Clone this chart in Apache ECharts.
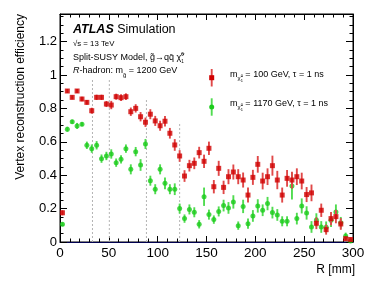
<!DOCTYPE html>
<html><head><meta charset="utf-8">
<script src="https://cdn.jsdelivr.net/npm/echarts@6/dist/echarts.min.js"></script>
<style>html,body{margin:0;padding:0;background:#fff}#c{width:374px;height:290px}</style>
</head><body><div id="c"></div>
<script>
// bin centres R [mm]
const binR = [2.5,7.5,12.5,17.5,22.5,27.5,32.5,37.5,42.5,47.5,52.5,57.5,62.5,67.5,72.5,77.5,82.5,87.5,92.5,97.5,
  102.5,107.5,112.5,117.5,122.5,127.5,132.5,137.5,142.5,147.5,152.5,157.5,162.5,167.5,172.5,177.5,182.5,187.5,192.5,197.5,
  202.5,207.5,212.5,217.5,222.5,227.5,232.5,237.5,242.5,247.5,252.5,257.5,262.5,267.5,272.5,277.5,282.5,287.5,292.5,297.5];
// m = 100 GeV
const redEff = [0.175,0.904,0.866,0.904,0.856,0.836,0.786,0.866,0.866,0.826,0.82,0.87,0.864,0.87,0.78,0.80,0.75,0.717,0.765,0.725,
  0.696,0.723,0.651,0.581,0.515,0.395,0.457,0.471,0.535,0.483,0.561,0.331,0.441,0.327,0.391,0.419,0.391,0.371,0.281,0.387,
  0.465,0.365,0.391,0.457,0.371,0.281,0.381,0.371,0.391,0.365,0.284,0.294,0.112,0.19,0.074,0.14,0.152,0.108,0.02,0.015];
const redErr = [0.015,0.012,0.012,0.012,0.013,0.014,0.018,0.016,0.016,0.018,0.025,0.018,0.02,0.02,0.025,0.025,0.028,0.028,0.03,0.03,
  0.03,0.032,0.032,0.035,0.035,0.035,0.035,0.035,0.035,0.04,0.04,0.04,0.045,0.04,0.045,0.045,0.045,0.045,0.045,0.045,
  0.05,0.05,0.05,0.06,0.055,0.045,0.05,0.05,0.05,0.05,0.045,0.05,0.035,0.04,0.03,0.04,0.04,0.035,0.012,0.012];
// m = 1170 GeV
const greenEff = [0.106,0.675,0.72,0.695,0.705,0.579,0.559,0.579,0.499,0.515,0.527,0.475,0.495,0.559,0.435,0.541,0.461,0.587,0.367,0.316,
  0.435,0.351,0.316,0.316,0.2,0.14,0.195,0.178,0.106,0.271,0.164,0.134,0.183,0.218,0.204,0.24,0.098,0.213,0.11,0.156,
  0.216,0.19,0.23,0.176,0.162,0.124,0.124,0.335,0.14,0.216,0.174,0.09,0.132,0.09,0.088,0.13,0.18,0.115,0.036,0.006];
const greenErr = [0.012,0.015,0.012,0.018,0.012,0.022,0.025,0.025,0.025,0.025,0.028,0.025,0.025,0.025,0.03,0.028,0.035,0.03,0.03,0.03,
  0.03,0.035,0.03,0.035,0.03,0.025,0.03,0.03,0.025,0.055,0.03,0.025,0.03,0.035,0.035,0.04,0.025,0.04,0.03,0.035,
  0.04,0.035,0.04,0.035,0.035,0.03,0.03,0.08,0.035,0.045,0.04,0.035,0.04,0.035,0.035,0.04,0.045,0.035,0.02,0.01];
// pixel layers (dotted lines)
const layerR = [33.25, 50.5, 88.5, 122.5];
const layerTop = [0.97, 0.97, 0.86, 0.71];
const yTickLabels = ['0','0.2','0.4','0.6','0.8','1','1.2'];

const FONT = '"Liberation Sans", Arial, Helvetica, sans-serif';
const RED = '#d00000', RED_BAR = '#e04848';
const GREEN = '#1ccc1c', GREEN_BAR = '#50dc50';

const chart = echarts.init(document.getElementById('c'), null, {renderer:'canvas'});

function errSeries(vals, errs, color, z) {
  return {
    type:'custom', z:z, silent:true,
    data: binR.map((r,i)=>[r, vals[i], errs[i]]),
    renderItem:(p, api)=>{
      const x = api.value(0), y = api.value(1), e = api.value(2);
      const a = api.coord([x, Math.max(0, y - e)]), b = api.coord([x, y + e]);
      return {type:'line', shape:{x1:a[0], y1:a[1], x2:b[0], y2:b[1]}, style:{stroke:color, lineWidth:1.9}};
    }
  };
}

const ctx = document.createElement('canvas').getContext('2d');
function fstr(s){ return (s.italic?'italic ':'') + (s.bold?'bold ':'') + s.size + 'px ' + FONT; }
function textRun(x0, baseline, list) {
  const out = []; let x = x0;
  list.forEach(s=>{
    const f = fstr(s);
    out.push({type:'text', x:x, y: baseline + (s.dy||0) - 0.35*s.size, z:100,
      style:{text:s.t, font:f, fill:'#000', align:'left', verticalAlign:'middle', textAlign:'left', textVerticalAlign:'middle'}});
    ctx.font = f;
    if (!s.noAdvance) x += ctx.measureText(s.t).width;
  });
  return out;
}

const graphics = [].concat(
  textRun(73, 34.3, [{t:'ATLAS', size:12.5, bold:true, italic:true},{t:' Simulation', size:12.5}]),
  textRun(73, 46.8, [{t:'\u221As = 13 TeV', size:7.8}]),
  textRun(73, 61, [{t:'Split-SUSY Model, ', size:9},{t:'g\u0303', size:9},{t:'\u2192qq\u0304 ', size:9},
    {t:'\u03c7\u0303', size:9},{t:'1', size:4.5, dy:2, noAdvance:true},{t:'0', size:4.5, dy:-5}]),
  textRun(73, 74, [{t:'R', size:9, italic:true},{t:'-hadron: m', size:9},{t:'g\u0303', size:6, dy:3},{t:' = 1200 GeV', size:9}]),
  textRun(230, 77.5, [{t:'m', size:9},{t:'\u03c7\u0303', size:6, dy:3},{t:'1', size:4, dy:5, noAdvance:true},{t:'0', size:4, dy:0},{t:' = 100 GeV, \u03c4 = 1 ns', size:9}]),
  textRun(230, 106.7, [{t:'m', size:9},{t:'\u03c7\u0303', size:6, dy:3},{t:'1', size:4, dy:5, noAdvance:true},{t:'0', size:4, dy:0},{t:' = 1170 GeV, \u03c4 = 1 ns', size:9}]),
  [
    {type:'line', shape:{x1:211.7, y1:69, x2:211.7, y2:86.5}, style:{stroke:RED_BAR, lineWidth:1.9}, z:100},
    {type:'rect', shape:{x:209.2, y:75.2, width:5, height:5}, style:{fill:RED}, z:101},
    {type:'line', shape:{x1:211.7, y1:98.3, x2:211.7, y2:115.7}, style:{stroke:GREEN_BAR, lineWidth:1.9}, z:100},
    {type:'circle', shape:{cx:211.7, cy:107, r:2.5}, style:{fill:GREEN}, z:101},
    {type:'text', x:21, y:14, rotation:Math.PI/2, z:100,
      style:{text:'Vertex reconstruction efficiency', font:'12px ' + FONT, fill:'#000', align:'right', verticalAlign:'middle', textAlign:'right', textVerticalAlign:'middle'}},
    {type:'text', x:355, y:276, z:100,
      style:{text:'R [mm]', font:'12px ' + FONT, fill:'#000', align:'right', verticalAlign:'bottom', textAlign:'right', textVerticalAlign:'bottom'}}
  ]
);

const tickBase = {inside:true, lineStyle:{color:'#000', width:1}};
const option = {
  animation:false,
  backgroundColor:'#fff',
  grid:{left:60, right:21, top:14, bottom:48, show:true, borderColor:'#000', borderWidth:1, backgroundColor:'#fff'},
  xAxis:[
    {type:'value', min:0, max:300, interval:50, position:'bottom',
     axisLine:{show:true, onZero:false, lineStyle:{color:'#000050', width:1.2}},
     axisTick:Object.assign({length:6}, tickBase),
     minorTick:{show:true, splitNumber:5, length:3.5, lineStyle:{color:'#000', width:1}},
     splitLine:{show:false}, minorSplitLine:{show:false},
     axisLabel:{fontSize:13.5, fontFamily:FONT, color:'#000', margin:4}},
    {type:'value', min:0, max:300, interval:50, position:'top',
     axisLine:{show:true, onZero:false, lineStyle:{color:'#000'}},
     axisTick:Object.assign({length:6}, tickBase),
     minorTick:{show:true, splitNumber:5, length:3.5, lineStyle:{color:'#000', width:1}},
     splitLine:{show:false}, axisLabel:{show:false}}
  ],
  yAxis:[
    {type:'value', min:0, max:1.365, interval:0.2, position:'left',
     axisLine:{show:true, onZero:false, lineStyle:{color:'#000'}},
     axisTick:Object.assign({length:7}, tickBase),
     minorTick:{show:true, splitNumber:4, length:3.5, lineStyle:{color:'#000', width:1}},
     splitLine:{show:false}, minorSplitLine:{show:false},
     axisLabel:{fontSize:13, fontFamily:FONT, color:'#000', margin:3,
       formatter:(v)=>{ const k = Math.round(v/0.2); return (Math.abs(v - k*0.2) < 1e-6 && k < yTickLabels.length) ? yTickLabels[k] : ''; }}},
    {type:'value', min:0, max:1.365, interval:0.2, position:'right',
     axisLine:{show:true, onZero:false, lineStyle:{color:'#000'}},
     axisTick:Object.assign({length:7}, tickBase),
     minorTick:{show:true, splitNumber:4, length:3.5, lineStyle:{color:'#000', width:1}},
     splitLine:{show:false}, axisLabel:{show:false}}
  ],
  series:[
    {type:'custom', z:1, silent:true,
     data: layerR.map((r,i)=>[r, layerTop[i]]),
     renderItem:(p, api)=>{
       const a = api.coord([api.value(0), 0]), b = api.coord([api.value(0), api.value(1)]);
       return {type:'line', shape:{x1:a[0], y1:a[1], x2:b[0], y2:b[1]}, style:{stroke:'#b4b4b4', lineWidth:1, lineDash:[2,2]}};
     }},
    errSeries(greenEff, greenErr, GREEN_BAR, 2),
    {type:'scatter', z:3, symbol:'circle', symbolSize:5, itemStyle:{color:GREEN}, silent:true,
     data: binR.map((r,i)=>[r, greenEff[i]])},
    errSeries(redEff, redErr, RED_BAR, 4),
    {type:'scatter', z:5, symbol:'rect', symbolSize:5, itemStyle:{color:RED}, silent:true,
     data: binR.map((r,i)=>[r, redEff[i]])}
  ],
  graphic: graphics
};
chart.setOption(option);
</script></body></html>
